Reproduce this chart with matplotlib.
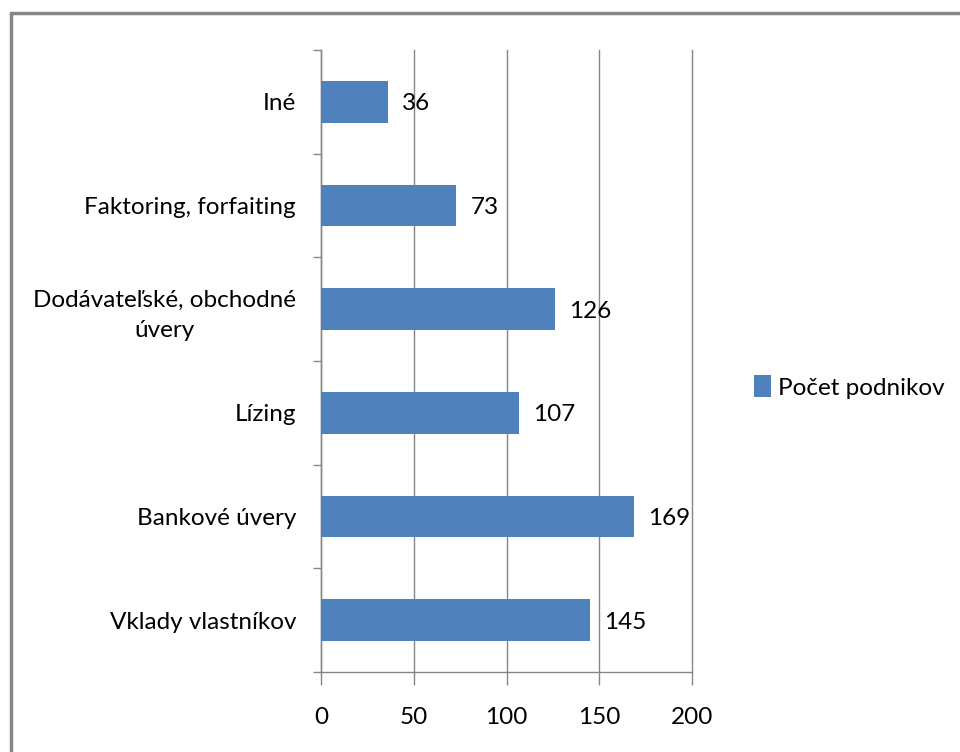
import matplotlib.pyplot as plt
import numpy as np
from matplotlib.patches import Rectangle

# zdroje financovania - pocet podnikov
kategorie = ["Vklady vlastníkov", "Bankové úvery", "Lízing",
             "Dodávateľské, obchodné\núvery", "Faktoring, forfaiting", "Iné"]
pocet = [145, 169, 107, 126, 73, 36]
x_ticks = [0, 50, 100, 150, 200]
legenda = "Počet podnikov"

modra = "#4F81BD"
seda = "#868686"
fs = 17.5

plt.rcParams['font.family'] = ['Lato', 'DejaVu Sans']

fig = plt.figure(figsize=(9.6, 7.52), dpi=100)
ax = fig.add_axes([321/960, 1 - 672/752, (692 - 321)/960, (672 - 50)/752])

y = np.arange(len(kategorie))
bars = ax.barh(y, pocet, height=0.4, color=modra, label=legenda, zorder=3)

for b, v in zip(bars, pocet):
    ax.annotate(str(v), (b.get_width(), b.get_y() + b.get_height()/2),
                xytext=(14, -2), textcoords='offset pixels',
                va='center', ha='left', fontsize=fs, color='black')

ax.set_xlim(0, 200)
ax.set_ylim(-0.5, len(kategorie) - 0.5)
ax.set_xticks(x_ticks)
ax.set_xticklabels([str(t) for t in x_ticks], fontsize=fs)
ax.grid(axis='x', color=seda, lw=1, zorder=0)
for gl in ax.get_xgridlines():
    gl.set_clip_on(False)

# hranice kategorii ako hlavne ticky, popisy v strede
ax.set_yticks(np.arange(-0.5, len(kategorie), 1))
ax.set_yticklabels([])
ax.set_yticks(y, minor=True)
ax.set_yticklabels(kategorie, minor=True, fontsize=fs,
                   multialignment='center', linespacing=1.5)
ax.tick_params(axis='y', which='minor', length=0, pad=18)
ax.tick_params(axis='y', which='major', length=6, color=seda, width=1)
ax.tick_params(axis='x', length=9, color=seda, width=1, pad=16)

for s in ['top', 'right']:
    ax.spines[s].set_visible(False)
for s in ['left', 'bottom']:
    ax.spines[s].set_color(seda)
    ax.spines[s].set_linewidth(1)

ax.legend(loc='center left', bbox_to_anchor=(732/960, 1 - 387/752),
          bbox_transform=fig.transFigure, frameon=False, fontsize=fs,
          handlelength=0.7, handleheight=1.0, handletextpad=0.3)

# ramcek grafu
fig.patches.append(Rectangle((11/960, -0.1), 1.2, 1 - 13/752 + 0.1,
                             transform=fig.transFigure, fill=False,
                             edgecolor=seda, lw=2.5))

fig.savefig("out.png", dpi=100)
